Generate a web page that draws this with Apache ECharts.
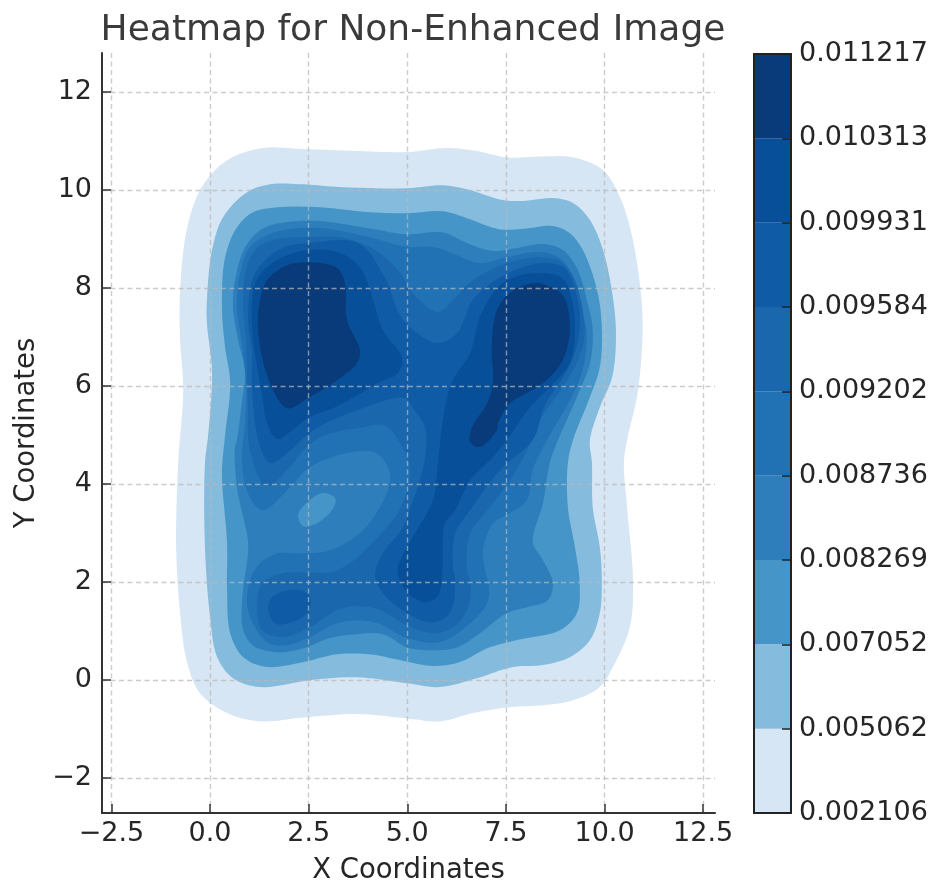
<!DOCTYPE html>
<html><head><meta charset="utf-8">
<style>html,body{margin:0;padding:0;background:#fff}#c{width:935px;height:883px}</style>
<script src="https://cdn.jsdelivr.net/npm/echarts@6/dist/echarts.min.js"></script>
</head><body><div id="c"></div>
<script>
const titleText = 'Heatmap for Non-Enhanced Image';
const xName = 'X Coordinates';
const yName = 'Y Coordinates';
const xTicks = [-2.5, 0, 2.5, 5, 7.5, 10, 12.5];
const yTicks = [-2, 0, 2, 4, 6, 8, 10, 12];
const levelLabels = ['0.002106','0.005062','0.007052','0.008269','0.008736','0.009202','0.009584','0.009931','0.010313','0.011217'];
const levelColors = ['#d6e6f4','#85bbdc','#4695c9','#2e7ebc','#2171b5','#1a67ad','#105ba5','#084f99','#093b7a'];

const contour1 = [[-0.76,7.96],[-0.58,9.24],[-0.22,10.05],[0.43,10.61],[1.34,10.86],[2.36,10.84],[3.72,10.80],[4.99,10.78],[6.00,10.86],[6.76,10.80],[7.52,10.67],[8.44,10.69],[9.20,10.67],[9.96,10.41],[10.39,9.86],[10.72,8.98],[10.95,7.61],[10.95,6.80],[10.82,5.78],[10.57,4.90],[10.49,4.43],[10.57,3.53],[10.72,2.04],[10.64,1.08],[10.21,0.27],[9.88,-0.14],[9.20,-0.41],[8.44,-0.51],[7.60,-0.55],[6.66,-0.67],[5.83,-0.84],[4.99,-0.78],[3.72,-0.69],[2.36,-0.76],[1.27,-0.84],[0.43,-0.67],[-0.25,-0.27],[-0.58,0.35],[-0.76,1.37],[-0.86,2.71],[-0.81,4.43],[-0.68,5.92],[-0.76,6.94]];
const contour2 = [[-0.08,7.76],[0.05,8.78],[0.33,9.45],[0.94,9.96],[1.52,10.12],[2.36,10.12],[3.37,10.06],[4.99,10.04],[5.90,10.10],[6.51,10.02],[7.42,9.80],[7.93,9.78],[8.69,9.84],[9.20,9.74],[9.63,9.39],[9.96,8.78],[10.21,7.82],[10.29,7.00],[10.19,6.18],[9.88,5.57],[9.63,4.90],[9.68,4.43],[9.70,3.53],[9.88,2.71],[9.93,2.04],[9.88,1.37],[9.63,0.82],[9.12,0.47],[8.44,0.31],[7.68,0.27],[6.76,0.04],[5.83,-0.14],[4.99,-0.06],[3.72,0.06],[2.53,0],[1.27,-0.14],[0.58,0.04],[0.18,0.47],[0,1.29],[-0.13,2.71],[-0.13,4.43],[-0.05,5.0],[0.05,6.27],[-0.08,7.29]];
const contour3 = [[0.30,7.61],[0.38,8.63],[0.68,9.24],[1.09,9.55],[1.70,9.65],[2.79,9.65],[4.05,9.55],[4.99,9.53],[5.90,9.57],[6.51,9.43],[7.35,9.20],[8.03,9.22],[8.69,9.27],[9.12,9.12],[9.45,8.78],[9.81,7.96],[9.93,7.20],[9.88,6.39],[9.63,5.78],[9.20,4.90],[9.07,4.43],[9.07,3.53],[9.25,2.71],[9.37,1.98],[9.30,1.37],[8.87,1.02],[7.78,0.82],[7.02,0.65],[6.33,0.37],[5.65,0.29],[4.81,0.41],[4.05,0.53],[3.22,0.53],[2.36,0.37],[1.44,0.27],[0.84,0.47],[0.51,0.96],[0.43,1.84],[0.43,2.80],[0.30,4.22],[0.38,5.0],[0.51,6.06],[0.38,6.80]];
const contour4 = [[0.58,7.61],[0.63,8.16],[0.89,8.84],[1.34,9.22],[1.95,9.35],[2.79,9.37],[4.05,9.22],[4.99,9.10],[5.90,9.14],[6.51,8.92],[7.17,8.76],[7.78,8.82],[8.44,8.90],[8.94,8.78],[9.30,8.41],[9.55,7.76],[9.70,7.14],[9.63,6.47],[9.30,5.78],[8.82,4.90],[8.61,4.43],[8.44,3.61],[8.18,2.82],[8.44,2.45],[8.69,1.98],[8.56,1.63],[8.03,1.49],[7.52,1.37],[6.84,0.96],[6.26,0.67],[5.65,0.61],[4.99,0.67],[4.38,0.94],[3.72,0.94],[3.04,0.86],[2.36,0.65],[1.70,0.57],[1.09,0.71],[0.84,1.02],[0.81,1.63],[0.96,2.59],[0.96,2.86],[0.68,3.94],[0.63,4.76],[0.68,4.90],[0.81,5.71],[0.89,6.27],[0.71,6.94]];
const contour5 = [[0.68,7.61],[0.76,8.31],[1.01,8.84],[1.44,9.08],[1.95,9.20],[2.79,9.23],[4.05,9.04],[4.99,8.84],[5.65,8.84],[6.26,8.67],[6.84,8.51],[7.52,8.63],[8.36,8.74],[8.87,8.61],[9.20,8.23],[9.42,7.61],[9.55,7.00],[9.42,6.27],[9.12,5.71],[8.54,4.90],[8.18,4.29],[8.03,3.67],[7.60,3.41],[7.17,3.20],[6.92,2.65],[6.97,2.25],[7.07,1.90],[7.02,1.57],[6.59,1.16],[5.83,0.78],[4.99,0.86],[4.18,1.18],[3.29,1.18],[2.48,0.86],[1.90,0.71],[1.44,0.78],[0.96,1.43],[1.01,2.04],[1.27,2.39],[1.70,2.59],[2.20,2.59],[3.04,2.65],[3.88,3.06],[4.48,3.82],[4.56,4.22],[4.23,4.63],[3.55,4.65],[2.53,4.35],[2.03,3.94],[1.34,3.47],[1.01,3.73],[0.81,4.43],[0.89,5.31],[0.91,6.02],[0.79,6.94]];
const contour6 = [[0.84,7.61],[0.89,8.31],[1.14,8.78],[1.57,8.98],[2.48,9.04],[3.42,9.02],[4.18,8.78],[4.81,8.33],[5.14,7.90],[5.78,7.51],[6.16,7.76],[6.66,8.16],[7.52,8.51],[8.36,8.63],[8.92,8.53],[9.25,8.16],[9.48,7.35],[9.48,6.94],[9.27,6.43],[8.94,5.98],[8.36,5.31],[8.03,4.69],[7.60,4.08],[7.09,3.53],[6.59,3.0],[6.51,2.31],[6.61,1.90],[6.51,1.43],[6.16,1.08],[5.65,0.96],[4.99,1.12],[4.18,1.47],[3.34,1.47],[2.48,1.06],[1.82,0.88],[1.32,1.02],[1.19,1.49],[1.32,1.98],[1.82,2.18],[2.48,2.20],[3.04,2.20],[3.55,2.39],[4.05,2.76],[4.56,3.20],[4.86,3.57],[5.07,4.29],[4.81,4.84],[4.43,5.20],[3.75,5.14],[3.37,5.10],[2.79,4.96],[2.36,4.69],[2.03,4.35],[1.42,3.96],[1.01,4.69],[0.96,5.71],[0.94,6.02],[0.91,6.94]];
const contour7 = [[0.96,7.41],[1.14,8.31],[1.82,8.82],[2.48,8.92],[3.75,8.92],[4.43,8.22],[4.81,7.45],[5.32,7.04],[5.78,6.88],[6.26,7.08],[6.66,7.76],[7.35,8.22],[8.36,8.51],[8.99,8.41],[9.32,7.76],[9.37,7.14],[9.12,6.43],[8.49,5.61],[8.18,4.90],[7.35,4.29],[6.59,3.47],[6.21,3.0],[6.16,2.31],[6.21,2.02],[6.08,1.37],[5.62,1.18],[4.99,1.37],[4.38,1.78],[4.18,2.14],[4.38,2.59],[4.89,3.12],[5.14,3.67],[5.24,3.88],[5.45,4.55],[5.45,5.16],[5.14,5.55],[4.94,5.76],[3.72,5.51],[2.61,5.10],[2.03,4.69],[1.52,4.43],[1.22,4.90],[1.06,6.02],[1.06,6.73]];
const contour8Left = [[1.06,7.61],[1.14,8.10],[1.44,8.43],[1.95,8.67],[2.48,8.78],[3.22,8.74],[3.80,8.43],[4.13,7.76],[4.38,7.14],[4.86,6.59],[4.76,6.27],[4.23,6.06],[3.75,5.82],[3.17,5.57],[2.48,5.35],[2.08,5.10],[1.70,4.92],[1.44,5.25],[1.34,5.71],[1.22,6.27],[1.09,6.94]];
const contour8Right = [[6.84,7.41],[7.27,8.0],[7.68,8.22],[8.36,8.31],[8.94,8.20],[9.17,7.76],[9.25,7.14],[9.12,6.47],[8.61,5.98],[8.11,5.57],[7.52,4.90],[7.09,4.49],[6.59,4.08],[6.21,3.47],[5.95,3.20],[5.90,2.92],[5.88,2.18],[5.78,1.73],[5.50,1.59],[5.07,1.73],[4.81,2.04],[4.76,2.31],[5.14,2.92],[5.65,3.67],[5.75,4.22],[5.90,5.31],[6.08,5.98],[6.26,6.27],[6.59,6.67]];
const contour9Left = [[1.22,7.49],[1.44,8.16],[1.95,8.47],[2.53,8.53],[3.22,8.41],[3.42,8.10],[3.47,7.35],[3.80,6.73],[3.72,6.47],[3.22,6.12],[2.53,5.78],[1.95,5.55],[1.52,6.06],[1.27,6.80]];
const contour9Right = [[8.36,8.10],[8.94,7.86],[9.12,7.20],[8.94,6.53],[8.44,6.06],[7.93,5.82],[7.60,5.65],[7.30,5.25],[7.27,5.10],[6.84,4.76],[6.59,4.86],[6.64,5.16],[7.02,5.65],[7.17,6.06],[7.14,6.80],[7.27,7.55],[7.68,7.96],[8.18,8.10]];
const island3 = [[2.23,3.37],[2.46,3.63],[2.86,3.82],[3.17,3.71],[3.12,3.51],[2.71,3.20],[2.36,3.14]];
const island7 = [[1.47,1.47],[1.57,1.69],[1.98,1.84],[2.41,1.80],[2.56,1.59],[2.41,1.33],[1.98,1.16],[1.65,1.16]];

const shapes = [
  [0,contour1],[1,contour2],[2,contour3],[3,contour4],[4,contour5],[2,island3],
  [5,contour6],[6,contour7],[6,island7],[7,contour8Left],[7,contour8Right],[8,contour9Left],[8,contour9Right]
];

// Draw the traced outline as a closed centripetal Catmull-Rom curve in screen space.
function closedCurve(pts, steps) {
  const n = pts.length, out = [];
  const lerp = (a,b,ta,tb,t) => tb===ta ? a.slice() : [a[0]+(b[0]-a[0])*(t-ta)/(tb-ta), a[1]+(b[1]-a[1])*(t-ta)/(tb-ta)];
  const next = (t,a,b) => t + Math.sqrt(Math.hypot(b[0]-a[0], b[1]-a[1]));
  for (let i=0;i<n;i++) {
    const p0=pts[(i-1+n)%n], p1=pts[i], p2=pts[(i+1)%n], p3=pts[(i+2)%n];
    const t0=0, t1=next(t0,p0,p1), t2=next(t1,p1,p2), t3=next(t2,p2,p3);
    for (let k=0;k<steps;k++) {
      const t=t1+(t2-t1)*k/steps;
      const a1=lerp(p0,p1,t0,t1,t), a2=lerp(p1,p2,t1,t2,t), a3=lerp(p2,p3,t2,t3,t);
      const b1=lerp(a1,a2,t0,t2,t), b2=lerp(a2,a3,t1,t3,t);
      out.push(lerp(b1,b2,t1,t2,t));
    }
  }
  return out;
}

const ink = '#262626', spine = '#333333';
const fmt = v => String(v).replace('-', '\u2212');
const chart = echarts.init(document.getElementById('c'), null, {renderer:'canvas'});
chart.setOption({
  animation:false,
  backgroundColor:'#ffffff',
  title:{text:titleText,left:408,top:8,textAlign:'center',
    textStyle:{fontFamily:'DejaVu Sans',fontSize:36,fontWeight:'normal',color:'#3a3a3a'}},
  grid:[
    {left:102,right:220,top:53,bottom:70,outerBoundsMode:'none'},
    {left:754,width:37,top:54,height:759,outerBoundsMode:'none'}
  ],
  xAxis:[
    {gridIndex:0,type:'value',min:-2.74,max:12.8,z:5,name:xName,nameLocation:'middle',nameGap:44,
     nameTextStyle:{fontFamily:'DejaVu Sans',fontSize:27.5,color:ink},
     axisLine:{show:true,onZero:false,lineStyle:{color:spine,width:2}},
     axisTick:{show:true,inside:true,length:9,lineStyle:{color:spine,width:1.5},customValues:xTicks},
     axisLabel:{color:ink,fontFamily:'DejaVu Sans',fontSize:27,margin:7,customValues:xTicks,formatter:v=>fmt(Number(v).toFixed(1))},
     splitLine:{show:true,lineStyle:{color:'rgba(185,185,185,0.72)',width:1.4,type:[5,3.5]}}},
    {gridIndex:1,type:'value',min:0,max:1,position:'bottom',z:6,axisLine:{show:true,onZero:false,lineStyle:{color:'#222',width:2}},axisTick:{show:false},axisLabel:{show:false},splitLine:{show:false}},
    {gridIndex:1,type:'value',min:0,max:1,position:'top',z:6,axisLine:{show:true,onZero:false,lineStyle:{color:'#222',width:2}},axisTick:{show:false},axisLabel:{show:false},splitLine:{show:false}}
  ],
  yAxis:[
    {gridIndex:0,type:'value',min:-2.71,max:12.8,z:5,name:yName,nameLocation:'middle',nameGap:57,
     nameTextStyle:{fontFamily:'DejaVu Sans',fontSize:27.5,color:ink},
     axisLine:{show:true,onZero:false,lineStyle:{color:spine,width:2}},
     axisTick:{show:true,inside:true,length:9,lineStyle:{color:spine,width:1.5},customValues:yTicks},
     axisLabel:{color:ink,fontFamily:'DejaVu Sans',fontSize:27,margin:10,customValues:yTicks,formatter:v=>fmt(v)},
     splitLine:{show:true,lineStyle:{color:'rgba(185,185,185,0.72)',width:1.4,type:[5,3.5]}}},
    {gridIndex:1,type:'value',min:0,max:9,interval:1,position:'right',z:6,
     axisLine:{show:true,onZero:false,lineStyle:{color:'#222',width:2}},
     axisTick:{show:true,inside:true,length:9,lineStyle:{color:'#222',width:1.5}},
     axisLabel:{color:ink,fontFamily:'DejaVu Sans',fontSize:27,margin:8,formatter:v=>levelLabels[v]},
     splitLine:{show:false}},
    {gridIndex:1,type:'value',min:0,max:9,interval:1,position:'left',z:6,
     axisLine:{show:true,onZero:false,lineStyle:{color:'#222',width:2}},axisTick:{show:false},axisLabel:{show:false},splitLine:{show:false}}
  ],
  series:[
    {type:'custom',xAxisIndex:0,yAxisIndex:0,silent:true,clip:true,z:2,
     data:shapes.map((s,i)=>[i]),encode:{x:0},
     renderItem:(params,api)=>{
       const s = shapes[api.value(0)];
       return {type:'polygon',shape:{points:closedCurve(s[1].map(p=>api.coord(p)),8)},
               style:{fill:levelColors[s[0]],stroke:null}};
     }},
    {type:'custom',xAxisIndex:1,yAxisIndex:1,silent:true,z:2,
     data:levelColors.map((c,i)=>[i]),encode:{y:0},
     renderItem:(params,api)=>{
       const i = api.value(0);
       const a = api.coord([0,i+1]), b = api.coord([1,i]);
       return {type:'rect',shape:{x:a[0],y:a[1],width:b[0]-a[0],height:b[1]-a[1]},
               style:{fill:levelColors[i]}};
     }}
  ]
});
</script></body></html>
